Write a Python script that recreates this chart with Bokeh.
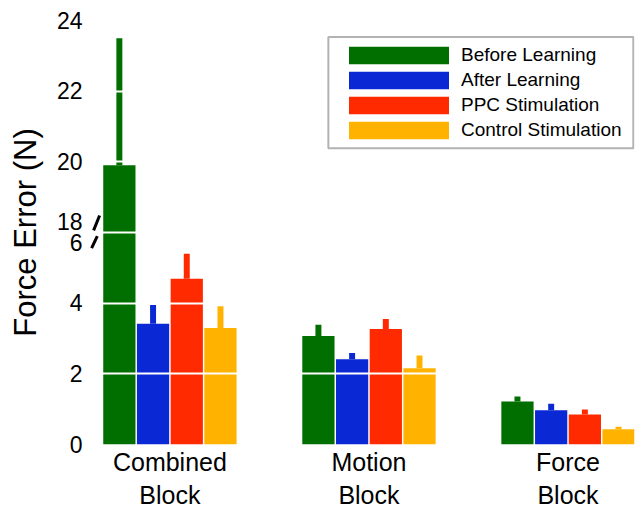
import numpy as np
from bokeh.plotting import figure
from bokeh.models import FixedTicker, Legend, LegendItem, BoxAnnotation, Range1d
from bokeh.embed import file_html
from bokeh.resources import INLINE

# ---- data -------------------------------------------------------------
blocks = ["Combined\nBlock", "Motion\nBlock", "Force\nBlock"]
series = ["Before Learning", "After Learning", "PPC Stimulation", "Control Stimulation"]
colors = ["#006f00", "#0a28d4", "#ff2a00", "#ffb300"]

before_mean = [19.9, 3.07, 1.22]
before_err = [3.6, 0.32, 0.14]
after_mean = [3.42, 2.41, 0.97]
after_err = [0.53, 0.18, 0.18]
ppc_mean = [4.69, 3.27, 0.85]
ppc_err = [0.71, 0.28, 0.14]
control_mean = [3.30, 2.16, 0.43]
control_err = [0.61, 0.36, 0.07]

means = [before_mean, after_mean, ppc_mean, control_mean]
errs = [before_err, after_err, ppc_err, control_err]

# y-axis ticks (positions on the broken axis) and their labels
y_ticks = [0, 2, 4, 6, 8, 10, 12]
y_tick_labels = ["0", "2", "4", "18\n6", "20", "22", "24"]

# broken axis: values from 18 upward are shifted down by 12
BREAK_LOW, BREAK_HIGH = 6, 18


def broken(v):
    v = np.asarray(v, dtype=float)
    return np.where(v >= BREAK_HIGH, v - (BREAK_HIGH - BREAK_LOW), v)


FONT = "Liberation Sans"

p = figure(width=641, height=512, output_backend="svg", toolbar_location=None,
           x_range=Range1d(-0.409, 2.334), y_range=Range1d(0, 12),
           min_border_left=88, min_border_right=7, min_border_top=20,
           min_border_bottom=68, outline_line_color=None)
p.xgrid.visible = False
p.ygrid.visible = False

bar_w = 0.162
pitch = 0.1693
offsets = [(-1.5 + i) * pitch for i in range(4)]
group_x = np.arange(len(blocks))

renderers = []
for i in range(4):
    xs = group_x + offsets[i]
    m = np.asarray(means[i])
    e = np.asarray(errs[i])
    r = p.vbar(x=xs, width=bar_w, bottom=0, top=broken(m),
               fill_color=colors[i], line_color=None)
    # one-sided (upper) error bars
    p.vbar(x=xs, width=0.03, bottom=broken(m), top=broken(m + e),
           fill_color=colors[i], line_color=None)
    renderers.append(r)

# white grid lines drawn over the bars
p.hspan(y=[t for t in y_ticks if 0 < t < 12], line_color="white", line_width=2)

# axis-break marks next to the 18/6 label
slash_x0 = [-0.3834, -0.3934]
slash_x1 = [-0.3532, -0.3648]
slash_y0 = [BREAK_LOW + 0.06, BREAK_LOW - 0.44]
slash_y1 = [BREAK_LOW + 0.48, BREAK_LOW - 0.10]
p.segment(x0=slash_x0, y0=slash_y0, x1=slash_x1, y1=slash_y1,
          line_color="black", line_width=3)

# axes
p.yaxis.ticker = FixedTicker(ticks=y_ticks)
p.yaxis.major_label_overrides = {t: l for t, l in zip(y_ticks, y_tick_labels)}
p.xaxis.ticker = FixedTicker(ticks=list(group_x))
p.xaxis.major_label_overrides = {int(g): b for g, b in zip(group_x, blocks)}
for ax in (p.xaxis, p.yaxis):
    ax.axis_line_color = None
    ax.major_tick_line_color = None
    ax.minor_tick_line_color = None
    ax.major_label_text_font = FONT
    ax.major_label_text_color = "black"
p.yaxis.major_label_text_font_size = "23px"
p.yaxis.major_label_text_line_height = 0.8
p.yaxis.major_label_standoff = 0
p.xaxis.major_label_text_font_size = "25px"
p.xaxis.major_label_standoff = -3
p.yaxis.axis_label = "Force Error (N)"
p.yaxis.axis_label_text_font = FONT
p.yaxis.axis_label_text_font_size = "31px"
p.yaxis.axis_label_text_font_style = "normal"
p.yaxis.axis_label_text_color = "black"
p.yaxis.axis_label_standoff = 11

# legend frame
p.add_layout(BoxAnnotation(left=0.796, right=2.328, bottom=8.385, top=11.53,
                           fill_color="white", fill_alpha=1.0,
                           line_color="black", line_width=2))

legend = Legend(items=[LegendItem(label=s, renderers=[r]) for s, r in zip(series, renderers)],
                location=(248, 303), padding=0, margin=0,
                border_line_color=None, background_fill_alpha=0,
                glyph_width=125, glyph_height=22, label_height=22,
                spacing=3, label_standoff=-2,
                label_text_font=FONT, label_text_font_size="19px",
                label_text_color="black")
p.add_layout(legend)

open("out.html", "w").write(file_html(p, INLINE))
